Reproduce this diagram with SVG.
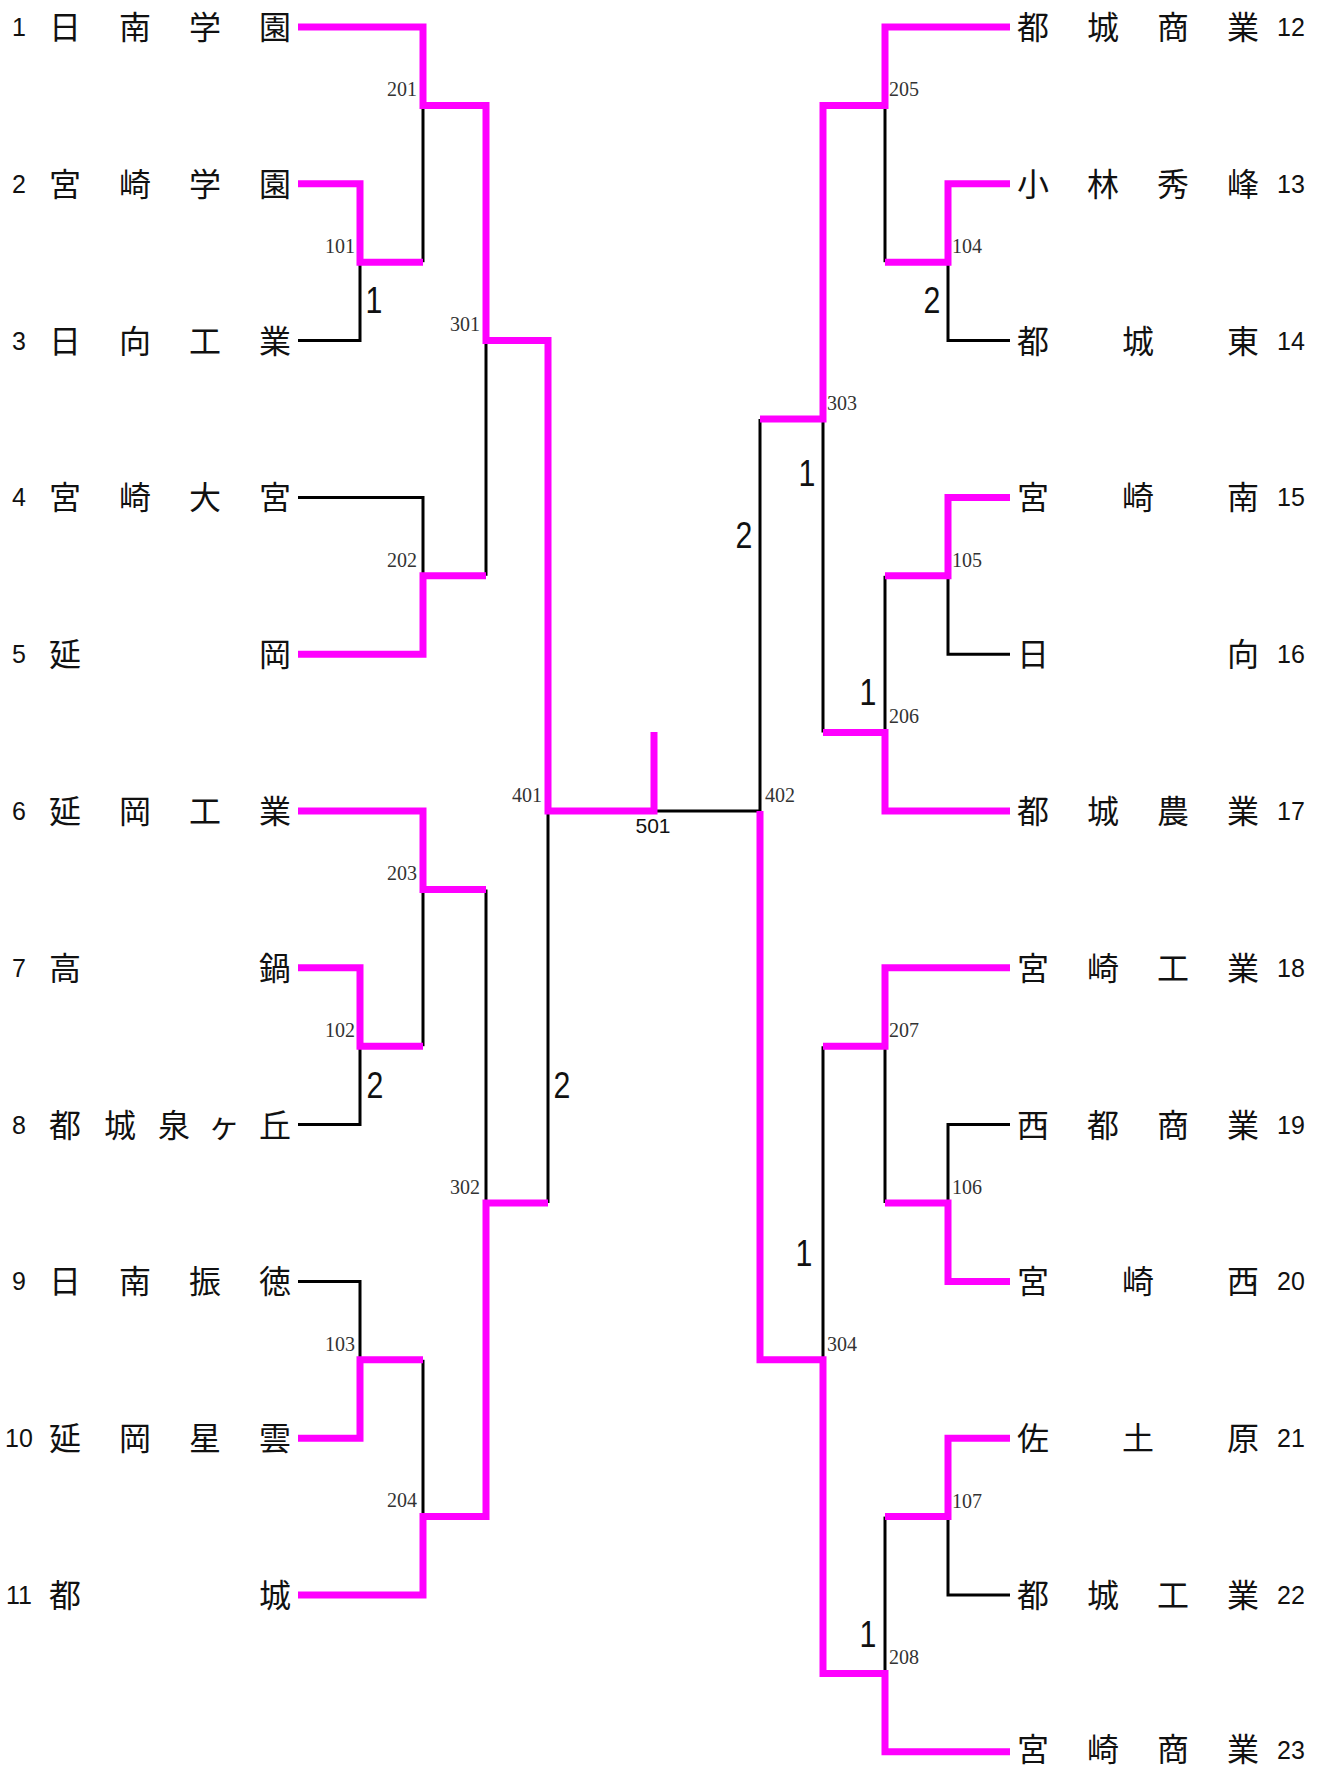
<svg xmlns="http://www.w3.org/2000/svg" width="1323" height="1768" viewBox="0 0 1323 1768">
<style>
.bk{fill:none;stroke:#000;stroke-width:3;stroke-linejoin:miter}
.mg{fill:none;stroke:#ff00ff;stroke-width:7;stroke-linejoin:miter}
.nm{font-family:"Noto Sans CJK JP","Noto Sans CJK SC",sans-serif;font-size:32px;fill:#111;text-anchor:middle}
.no{font-family:"Liberation Sans",Arial,sans-serif;font-size:25px;fill:#111;text-anchor:middle}
.lbL{font-family:"Liberation Serif","Times New Roman",serif;font-size:20px;fill:#333;text-anchor:end}
.lbR{font-family:"Liberation Serif","Times New Roman",serif;font-size:20px;fill:#333;text-anchor:start}
.sc{font-family:"Liberation Sans",Arial,sans-serif;font-size:37px;fill:#111;text-anchor:middle}
.fin{font-family:"Liberation Sans",Arial,sans-serif;font-size:21px;fill:#111;text-anchor:middle}
</style>
<rect width="1323" height="1768" fill="#fff"/>
<g id="connectors">
<g id="losers">
<polyline class="bk" points="298,340.6 360,340.6 360,262.2"/>
<polyline class="bk" points="423,105.4 423,262.2"/>
<polyline class="bk" points="298,497.4 423,497.4 423,575.8"/>
<polyline class="bk" points="486,340.6 486,575.8"/>
<polyline class="bk" points="423,889.4 423,1046.2"/>
<polyline class="bk" points="298,1124.6 360,1124.6 360,1046.2"/>
<polyline class="bk" points="486,889.4 486,1203"/>
<polyline class="bk" points="548,811 548,1203"/>
<polyline class="bk" points="298,1281.4 360,1281.4 360,1359.8"/>
<polyline class="bk" points="423,1359.8 423,1516.6"/>
<polyline class="bk" points="654,811 760,811"/>
<polyline class="bk" points="1010,340.6 948,340.6 948,262.2"/>
<polyline class="bk" points="885,105.4 885,262.2"/>
<polyline class="bk" points="823,419 823,732.6"/>
<polyline class="bk" points="1010,654.2 948,654.2 948,575.8"/>
<polyline class="bk" points="885,575.8 885,732.6"/>
<polyline class="bk" points="760,419 760,811"/>
<polyline class="bk" points="1010,1124.6 948,1124.6 948,1203"/>
<polyline class="bk" points="885,1046.2 885,1203"/>
<polyline class="bk" points="823,1046.2 823,1359.8"/>
<polyline class="bk" points="1010,1595 948,1595 948,1516.6"/>
<polyline class="bk" points="885,1516.6 885,1673.4"/>
</g>
<g id="winners">
<polyline class="mg" points="298,27 423,27 423,105.4 486,105.4 486,340.6 548,340.6 548,811 654,811 654,732"/>
<polyline class="mg" points="298,183.8 360,183.8 360,262.2 423,262.2"/>
<polyline class="mg" points="298,654.2 423,654.2 423,575.8 486,575.8"/>
<polyline class="mg" points="298,811 423,811 423,889.4 486,889.4"/>
<polyline class="mg" points="298,967.8 360,967.8 360,1046.2 423,1046.2"/>
<polyline class="mg" points="298,1438.2 360,1438.2 360,1359.8 423,1359.8"/>
<polyline class="mg" points="298,1595 423,1595 423,1516.6 486,1516.6 486,1203 548,1203"/>
<polyline class="mg" points="1010,27 885,27 885,105.4 823,105.4 823,419 760,419"/>
<polyline class="mg" points="1010,183.8 948,183.8 948,262.2 885,262.2"/>
<polyline class="mg" points="1010,497.4 948,497.4 948,575.8 885,575.8"/>
<polyline class="mg" points="1010,811 885,811 885,732.6 823,732.6"/>
<polyline class="mg" points="1010,967.8 885,967.8 885,1046.2 823,1046.2"/>
<polyline class="mg" points="1010,1281.4 948,1281.4 948,1203 885,1203"/>
<polyline class="mg" points="1010,1438.2 948,1438.2 948,1516.6 885,1516.6"/>
<polyline class="mg" points="1010,1751.8 885,1751.8 885,1673.4 823,1673.4 823,1359.8 760,1359.8 760,811"/>
</g>
</g>
<g id="match-labels">
<text class="lbL" x="355" y="253">101</text>
<text class="lbL" x="355" y="1037">102</text>
<text class="lbL" x="355" y="1351">103</text>
<text class="lbL" x="417" y="96">201</text>
<text class="lbL" x="417" y="567">202</text>
<text class="lbL" x="417" y="880">203</text>
<text class="lbL" x="417" y="1507">204</text>
<text class="lbL" x="480" y="331">301</text>
<text class="lbL" x="480" y="1194">302</text>
<text class="lbL" x="542" y="802">401</text>
<text class="lbR" x="952" y="253">104</text>
<text class="lbR" x="952" y="567">105</text>
<text class="lbR" x="952" y="1194">106</text>
<text class="lbR" x="952" y="1508">107</text>
<text class="lbR" x="889" y="96">205</text>
<text class="lbR" x="889" y="723">206</text>
<text class="lbR" x="889" y="1037">207</text>
<text class="lbR" x="889" y="1664">208</text>
<text class="lbR" x="827" y="410">303</text>
<text class="lbR" x="827" y="1351">304</text>
<text class="lbR" x="765" y="802">402</text>
<text class="fin" x="653" y="833">501</text>
</g>
<g id="scores">
<text class="sc" transform="translate(374,313) scale(0.82,1)">1</text>
<text class="sc" transform="translate(375,1098) scale(0.82,1)">2</text>
<text class="sc" transform="translate(562,1098) scale(0.82,1)">2</text>
<text class="sc" transform="translate(932,313) scale(0.82,1)">2</text>
<text class="sc" transform="translate(807,486) scale(0.82,1)">1</text>
<text class="sc" transform="translate(744,548) scale(0.82,1)">2</text>
<text class="sc" transform="translate(868,705) scale(0.82,1)">1</text>
<text class="sc" transform="translate(804,1266) scale(0.82,1)">1</text>
<text class="sc" transform="translate(868,1647) scale(0.82,1)">1</text>
</g>
<g id="team-1"><text class="no" x="19" y="36">1</text><text class="nm" x="65 135 205 275" y="39">日南学園</text></g>
<g id="team-2"><text class="no" x="19" y="192.8">2</text><text class="nm" x="65 135 205 275" y="195.8">宮崎学園</text></g>
<g id="team-3"><text class="no" x="19" y="349.6">3</text><text class="nm" x="65 135 205 275" y="352.6">日向工業</text></g>
<g id="team-4"><text class="no" x="19" y="506.4">4</text><text class="nm" x="65 135 205 275" y="509.4">宮崎大宮</text></g>
<g id="team-5"><text class="no" x="19" y="663.2">5</text><text class="nm" x="65 275" y="666.2">延岡</text></g>
<g id="team-6"><text class="no" x="19" y="820">6</text><text class="nm" x="65 135 205 275" y="823">延岡工業</text></g>
<g id="team-7"><text class="no" x="19" y="976.8">7</text><text class="nm" x="65 275" y="979.8">高鍋</text></g>
<g id="team-8"><text class="no" x="19" y="1133.6">8</text><text class="nm" x="65 120 174 224 275" y="1136.6">都城泉ヶ丘</text></g>
<g id="team-9"><text class="no" x="19" y="1290.4">9</text><text class="nm" x="65 135 205 275" y="1293.4">日南振徳</text></g>
<g id="team-10"><text class="no" x="19" y="1447.2">10</text><text class="nm" x="65 135 205 275" y="1450.2">延岡星雲</text></g>
<g id="team-11"><text class="no" x="19" y="1604">11</text><text class="nm" x="65 275" y="1607">都城</text></g>
<g id="team-12"><text class="nm" x="1033 1103 1173 1243" y="39">都城商業</text><text class="no" x="1291" y="36">12</text></g>
<g id="team-13"><text class="nm" x="1033 1103 1173 1243" y="195.8">小林秀峰</text><text class="no" x="1291" y="192.8">13</text></g>
<g id="team-14"><text class="nm" x="1033 1138 1243" y="352.6">都城東</text><text class="no" x="1291" y="349.6">14</text></g>
<g id="team-15"><text class="nm" x="1033 1138 1243" y="509.4">宮崎南</text><text class="no" x="1291" y="506.4">15</text></g>
<g id="team-16"><text class="nm" x="1033 1243" y="666.2">日向</text><text class="no" x="1291" y="663.2">16</text></g>
<g id="team-17"><text class="nm" x="1033 1103 1173 1243" y="823">都城農業</text><text class="no" x="1291" y="820">17</text></g>
<g id="team-18"><text class="nm" x="1033 1103 1173 1243" y="979.8">宮崎工業</text><text class="no" x="1291" y="976.8">18</text></g>
<g id="team-19"><text class="nm" x="1033 1103 1173 1243" y="1136.6">西都商業</text><text class="no" x="1291" y="1133.6">19</text></g>
<g id="team-20"><text class="nm" x="1033 1138 1243" y="1293.4">宮崎西</text><text class="no" x="1291" y="1290.4">20</text></g>
<g id="team-21"><text class="nm" x="1033 1138 1243" y="1450.2">佐土原</text><text class="no" x="1291" y="1447.2">21</text></g>
<g id="team-22"><text class="nm" x="1033 1103 1173 1243" y="1607">都城工業</text><text class="no" x="1291" y="1604">22</text></g>
<g id="team-23"><text class="nm" x="1033 1103 1173 1243" y="1761">宮崎商業</text><text class="no" x="1291" y="1759">23</text></g>
</svg>
